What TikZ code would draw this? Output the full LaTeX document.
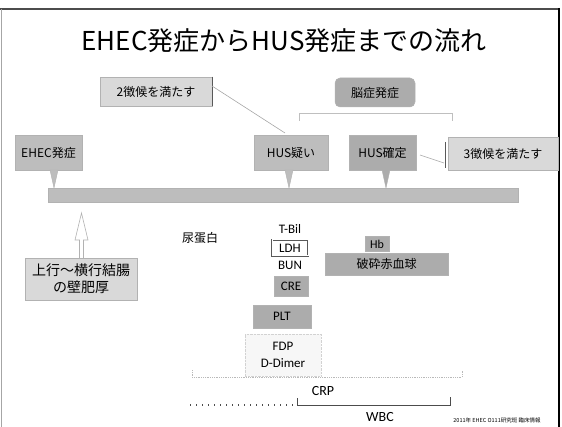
\documentclass[tikz,border=0pt]{standalone}
\usepackage{fontspec}
\setmainfont{Noto Sans CJK JP}
\newfontfamily\lat{Carlito}
\begin{document}
\begin{tikzpicture}[x=1pt,y=-1pt,
  lbl/.style={font=\fontsize{12}{14}\selectfont, inner sep=0pt},
  latlbl/.style={font=\lat\fontsize{13}{15}\selectfont, inner sep=0pt},
  cbox/.style={draw=gray!60, line width=0.5pt, inner sep=0pt, font=\fontsize{12}{14}\selectfont},
  light/.style={cbox, fill=gray!30},
  mid/.style={cbox, fill=gray!52},
  dark/.style={cbox, fill=gray!65},
  ptr/.style={fill=gray!52, draw=gray!60, line width=0.4pt},
  call/.style={draw=gray!70, line width=0.6pt},
  brk/.style={draw=gray!50, line width=0.8pt}
]
\useasboundingbox (0,0) rectangle (562,427);
% frame
\draw[gray!60!black, line width=1.5pt] (0,9) -- (559,9);
\draw[gray!70, line width=1pt] (1,9) -- (1,427);
\draw[black, line width=2.5pt] (559,8) -- (559,427);

% title
\node[inner sep=0pt, font=\fontsize{26}{30}\selectfont] (title) at (284,41) {EHEC発症からHUS発症までの流れ};

% top callouts
\node[light, minimum width=112pt, minimum height=29pt] (s2) at (156,91.5) {2徴候を満たす};
\draw[gray!70!black, line width=0.6pt] (s2.north east) -- (s2.south east);
\node[dark, rounded corners=5pt, minimum width=80pt, minimum height=29pt] (nou) at (375,92.5) {脳症発症};
\coordinate (b1) at (299,121); \coordinate (b2) at (299,113);
\coordinate (b3) at (452,113); \coordinate (b4) at (452,121);
\draw[brk] (b1) -- (b2) -- (b3) -- (b4);

% timeline bar
\node[mid, minimum width=470pt, minimum height=14pt] (bar) at (283,195) {};

% event callouts
\node[mid, minimum width=67pt, minimum height=35pt] (ehec) at (48.5,152.5) {EHEC発症};
\node[mid, minimum width=74pt, minimum height=35pt] (husq) at (291,152.5) {HUS疑い};
\node[dark, minimum width=67pt, minimum height=35pt] (husk) at (382.5,152.5) {HUS確定};
\node[light, minimum width=110pt, minimum height=33pt] (s3) at (503,153.5) {3徴候を満たす};

\coordinate (p1a) at (50,170); \coordinate (p1t) at (54,188); \coordinate (p1b) at (58,170);
\fill[ptr] (p1a) -- (p1t) -- (p1b) -- cycle;
\coordinate (p2a) at (285,170); \coordinate (p2t) at (289,188); \coordinate (p2b) at (293,170);
\fill[ptr] (p2a) -- (p2t) -- (p2b) -- cycle;
\coordinate (p3a) at (382,170); \coordinate (p3t) at (386,188); \coordinate (p3b) at (390,170);
\fill[ptr, fill=gray!65] (p3a) -- (p3t) -- (p3b) -- cycle;

% callout lines
\coordinate (c2) at (212,86); \coordinate (c2e) at (285,133);
\draw[call] (c2) -- (c2e);
\coordinate (c3v1) at (445,142); \coordinate (c3v2) at (445,168);
\draw[gray!70!black, line width=0.6pt] (c3v1) -- (c3v2);
\coordinate (c3s) at (420,155); \coordinate (c3e) at (444,163);
\draw[call] (c3s) -- (c3e);

% wall thickening
\node[light, minimum width=112pt, minimum height=42pt, align=center, font=\fontsize{14}{17}\selectfont] (wall) at (81,279) {上行〜横行結腸\\の壁肥厚};
\coordinate (ua1) at (79.5,258); \coordinate (ua2) at (79.5,240); \coordinate (ua3) at (75,240);
\coordinate (ua4) at (81.5,213); \coordinate (ua5) at (88,240); \coordinate (ua6) at (83.5,240);
\coordinate (ua7) at (83.5,258);
\draw[fill=white, draw=gray!60, line width=0.6pt] (ua1) -- (ua2) -- (ua3) -- (ua4) -- (ua5) -- (ua6) -- (ua7);

% lab items
\node[lbl] (nyo) at (200,238) {尿蛋白};
\node[latlbl] (tbil) at (290,229) {T-Bil};
\node[draw=gray!70!black, double, double distance=1pt, fill=white, minimum width=36pt, minimum height=16pt, inner sep=0pt, font=\lat\fontsize{13}{15}\selectfont] (ldh) at (290,248) {LDH};
\node[latlbl] (bun) at (290,265) {BUN};
\node[dark, minimum width=34pt, minimum height=20pt, font=\lat\fontsize{13}{15}\selectfont] (cre) at (291,286) {CRE};
\node[dark, minimum width=58pt, minimum height=23pt, font=\lat\fontsize{13}{15}\selectfont] (plt) at (282,316.5) {PLT};
\node[dark, minimum width=24pt, minimum height=15pt, font=\lat\fontsize{12}{14}\selectfont] (hb) at (377,244) {Hb};
\node[dark, minimum width=123pt, minimum height=22pt] (hasai) at (386.5,264) {破砕赤血球};
\node[draw=gray!35, densely dotted, fill=gray!6, minimum width=76pt, minimum height=42pt, align=center, inner sep=0pt, font=\lat\fontsize{13}{17}\selectfont] (fdp) at (283,355) {FDP\\D-Dimer};

% CRP
\coordinate (r1) at (192,370); \coordinate (r2) at (192,377);
\coordinate (r3) at (462,377); \coordinate (r4) at (462,370);
\draw[gray!55, densely dotted, line width=0.8pt] (r1) -- (r2) -- (r3) -- (r4);
\node[latlbl, font=\lat\fontsize{14}{16}\selectfont] (crp) at (323,391) {CRP};

% WBC
\coordinate (w0) at (190,405); \coordinate (w1) at (297,405);
\draw[gray!60!black, line width=1.2pt, dash pattern=on 1pt off 5pt] (w0) -- (w1);
\coordinate (w1t) at (297,398); \coordinate (w2) at (450,405); \coordinate (w2t) at (450,397);
\draw[gray!60!black, line width=0.8pt] (w1t) -- (w1) -- (w2) -- (w2t);
\node[latlbl, font=\lat\fontsize{14}{16}\selectfont] (wbc) at (380,417) {WBC};

\node[inner sep=0pt, font=\fontsize{5.5}{6}\selectfont] (foot) at (497,420) {2011年 EHEC O111研究班 臨床情報};
\end{tikzpicture}
\end{document}
